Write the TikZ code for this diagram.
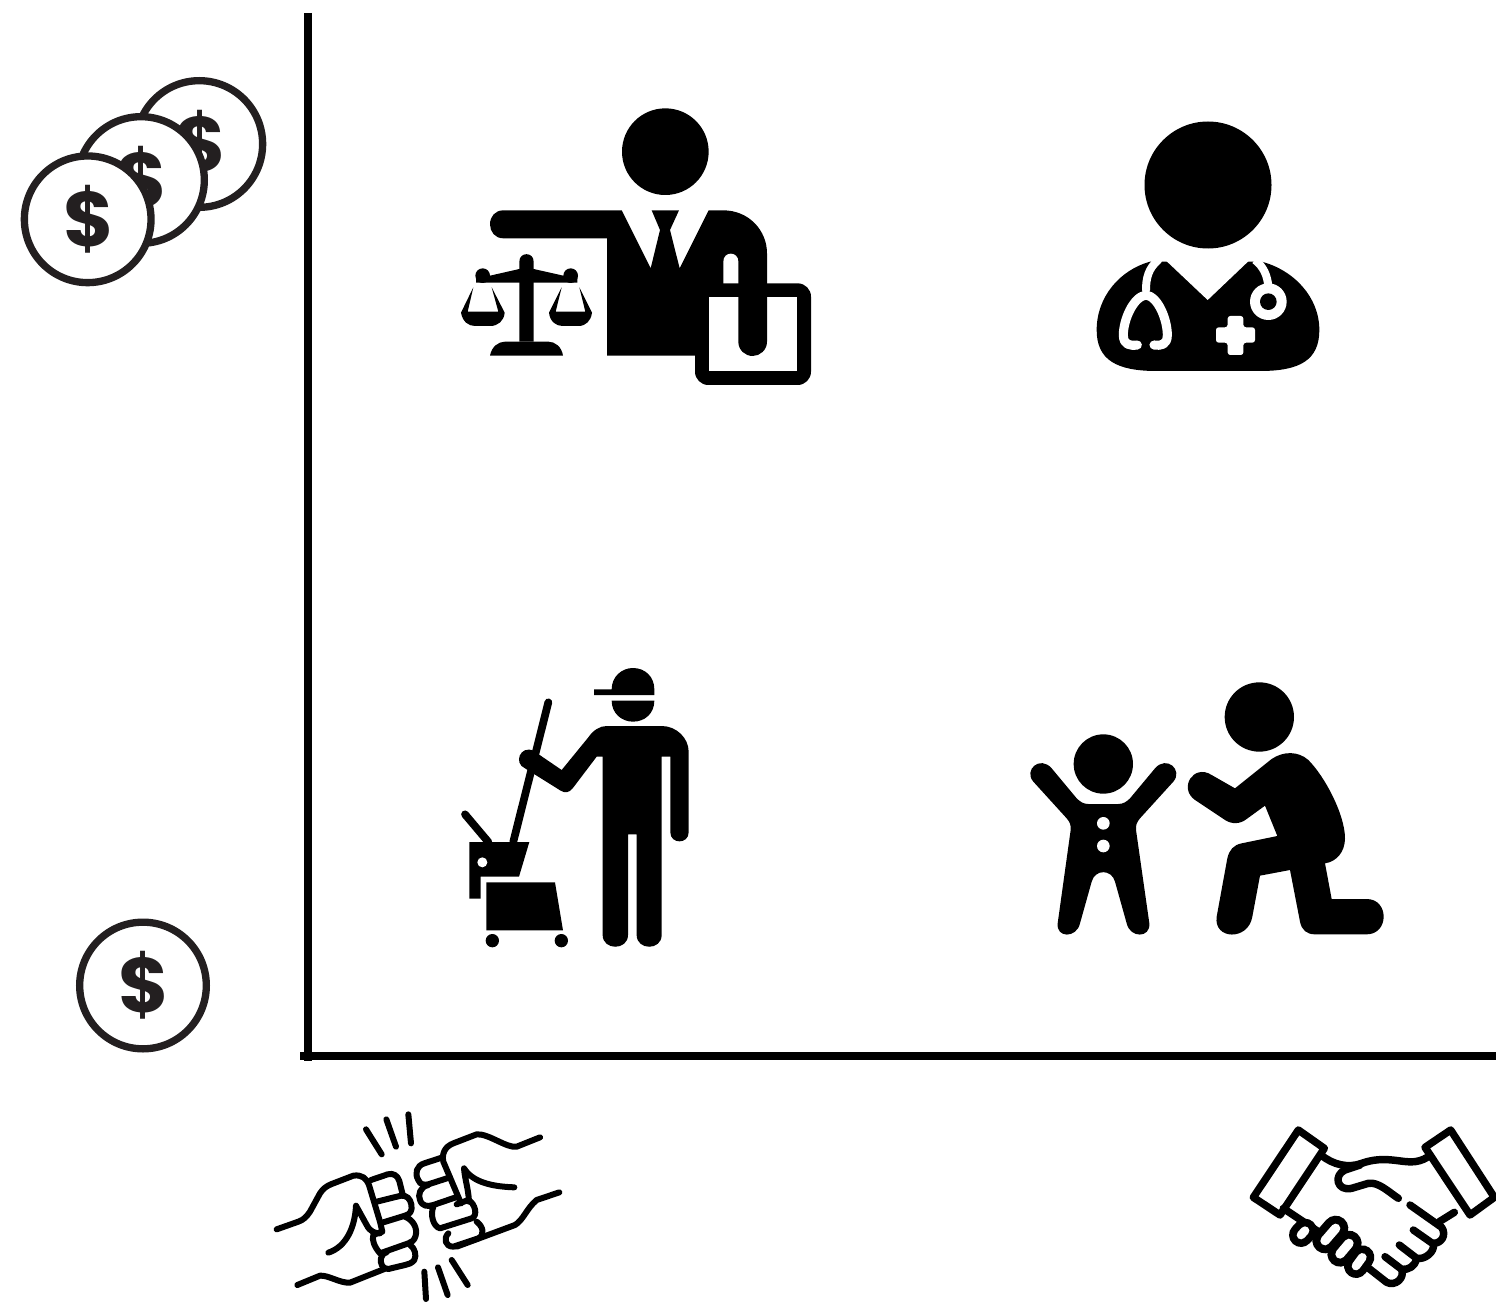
\documentclass[tikz,border=0pt]{standalone}
\usepackage{fontspec}
\newfontfamily\coinfont{Poppins}
\tikzset{
  axisline/.style={draw=black,line width=6pt},
  solid ink/.style={fill=black,draw=none},
  paper/.style={fill=white,draw=none},
  cointhin/.style={circle,draw=coinink,fill=white,line width=5.5pt,minimum size=95pt,inner sep=0pt},
  dollar/.style={text=coinink,inner sep=0pt,xshift=1pt,font=\coinfont\bfseries\fontsize{58}{58}\selectfont},
  outline/.style={draw=black,line cap=round,line join=round,line width=4.5pt},
  shakeline/.style={draw=black,line cap=round,line join=round,line width=5.6pt},
  mopline/.style={draw=black,line width=5.8pt,line cap=round},
}
\definecolor{coinink}{HTML}{231F20}
\begin{document}
\begin{tikzpicture}[x=0.75pt,y=-0.75pt]
\useasboundingbox (0,0) rectangle (1496,1302);
\fill[white] (0,0) rectangle (1496,1302);
% axes
\coordinate (ytop) at (308,13);
\coordinate (ybot) at (308,1061);
\coordinate (xleft) at (300,1055.5);
\coordinate (xright) at (1496,1055.5);
\draw[axisline] (ytop) -- (ybot);
\draw[axisline] (xleft) -- (xright);
% coins
\node[cointhin] (coinC) at (199.3,144) {};
\node[dollar] (dollarC) at (199.3,144) {\$};
\node[cointhin] (coinB) at (141,180) {};
\node[dollar] (dollarB) at (141,180) {\$};
\node[cointhin] (coinA) at (87.7,219.3) {};
\node[dollar] (dollarA) at (87.7,219.3) {\$};
\node[cointhin] (coinD) at (143,985.5) {};
\node[dollar] (dollarD) at (143,985.5) {\$};
% lawyer
\begin{scope}[shift={(440,90)},scale=1/3]
\fill[solid ink] (676,185) circle (130);
\fill[solid ink] (190,361) -- (545,361) -- (632,535) -- (660,420) -- (635,361) -- (717,361) -- (690,420) -- (719,535) -- (806,361) -- (850,361) .. controls (925,361) and (981,420) .. (981,490) -- (981,797) -- (501,797) -- (501,445) -- (190,445) .. controls (165,445) and (150,425) .. (150,403) .. controls (150,380) and (165,361) .. (190,361) -- cycle;
\fill[solid ink,rounded corners=10pt] (765,580) rectangle (1113,885);
\fill[paper] (806,622) rectangle (1071,843);
\fill[solid ink] (895,600) -- (981,600) -- (981,755) .. controls (981,780) and (960,798) .. (938,798) .. controls (915,798) and (895,780) .. (895,755) -- cycle;
\fill[paper] (850,580) -- (850,515) .. controls (850,483) and (895,483) .. (895,515) -- (895,580) -- cycle;
% scales
\fill[solid ink] (238,755) -- (238,515) .. controls (238,485) and (281,485) .. (281,515) -- (281,755) -- cycle;
\fill[solid ink] (128,557) circle (22);
\fill[solid ink] (392,557) circle (22);
\fill[solid ink] (108,578) -- (108,557) -- (150,557) -- (238,537) -- (281,537) -- (370,557) -- (412,557) -- (412,578) -- cycle;
\fill[solid ink] (150,797) .. controls (155,770) and (175,755) .. (195,755) -- (325,755) .. controls (345,755) and (365,770) .. (369,797) -- cycle;
\fill[solid ink] (100,592) -- (63,668) .. controls (68,695) and (85,708) .. (105,708) -- (150,708) .. controls (175,708) and (192,692) .. (194,668) -- (155,592) -- (175,665) -- (83,665) -- cycle;
\fill[solid ink] (365,592) -- (327,668) .. controls (330,695) and (348,708) .. (368,708) -- (415,708) .. controls (438,708) and (453,692) .. (456,668) -- (418,592) -- (436,665) -- (347,665) -- cycle;
\end{scope}
% doctor
\fill[solid ink] (1208,185) circle (63.5);
\begin{scope}[shift={(1080,240)},scale=1/3]
\fill[solid ink] (210,65) .. controls (120,90) and (50,170) .. (50,270) .. controls (50,360) and (110,393) .. (230,393) -- (540,393) .. controls (660,393) and (718,360) .. (718,270) .. controls (718,170) and (640,90) .. (545,65) -- cycle;
\fill[paper] (258,62) -- (383,180) -- (507,62) -- cycle;
\draw[white,line width=6pt,line cap=round] (235,60) .. controls (205,85) and (198,115) .. (198,150);
\draw[white,line width=6.8pt,line cap=round,line join=round] (172,315) .. controls (150,318) and (130,315) .. (130,285) .. controls (130,240) and (160,170) .. (198,165) .. controls (235,170) and (262,240) .. (262,285) .. controls (262,315) and (243,318) .. (222,315);
\draw[white,line width=6pt] (525,60) .. controls (550,80) and (562,105) .. (565,140);
\fill[paper] (565,185) circle (55);
\fill[solid ink] (565,185) circle (25);
\fill[paper,rounded corners=2pt] (443,228) -- (490,228) -- (490,262) -- (525,262) -- (525,308) -- (490,308) -- (490,345) -- (443,345) -- (443,308) -- (408,308) -- (408,262) -- (443,262) -- cycle;
\end{scope}
% janitor
\begin{scope}[shift={(450,660)},scale=1/3]
\fill[solid ink] (432,88) -- (485,88) .. controls (485,50) and (515,24) .. (549,24) .. controls (585,24) and (613,50) .. (613,88) -- (613,105) -- (432,105) -- cycle;
\fill[solid ink] (485,122) -- (613,122) .. controls (613,160) and (585,185) .. (549,185) .. controls (515,185) and (485,160) .. (485,122) -- cycle;
\fill[solid ink] (470,198) -- (635,198) .. controls (680,198) and (716,235) .. (716,275) -- (716,517) .. controls (716,553) and (661,553) .. (661,517) -- (661,290) -- (635,290) -- (635,825) .. controls (635,872) and (560,872) .. (560,825) -- (560,523) -- (534,523) -- (534,825) .. controls (534,872) and (458,872) .. (458,825) -- (458,290) -- (440,290) -- (368,385) .. controls (358,398) and (345,400) .. (332,392) -- (225,325) .. controls (190,310) and (210,255) .. (250,272) -- (335,330) -- (415,232) .. controls (430,210) and (450,198) .. (470,198) -- cycle;
\draw[mopline] (295,127) -- (190,545);
\draw[mopline] (45,463) -- (115,546);
\fill[solid ink] (58,546) -- (238,546) -- (207,650) -- (92,650) -- (92,716) -- (58,716) -- cycle;
\fill[paper] (97,607) circle (15);
\fill[solid ink] (109,667) -- (315,667) -- (339,811) -- (109,811) -- cycle;
\fill[solid ink] (127,842) circle (20);
\fill[solid ink] (334,842) circle (20);
\end{scope}
% child and adult
\begin{scope}[shift={(1020,675)},scale=1/3]
\fill[solid ink] (718,126) circle (104);
\fill[solid ink] (645,340) -- (755,252) .. controls (790,228) and (835,228) .. (865,255) .. controls (915,305) and (975,420) .. (975,490) .. controls (975,530) and (950,560) .. (915,565) -- (935,672) -- (1040,672) .. controls (1108,672) and (1108,778) .. (1040,778) -- (885,778) .. controls (860,778) and (845,765) .. (840,740) -- (810,585) -- (720,602) -- (697,725) .. controls (685,798) and (580,795) .. (590,725) -- (622,550) .. controls (628,525) and (640,510) .. (665,505) -- (772,483) -- (735,392) -- (680,432) .. controls (660,448) and (635,448) .. (615,435) -- (525,375) .. controls (475,340) and (520,265) .. (575,300) -- cycle;
\fill[solid ink] (250,267) circle (89);
\fill[solid ink] (205,387) -- (295,387) .. controls (310,387) and (320,380) .. (330,370) -- (405,280) .. controls (440,240) and (490,285) .. (460,320) -- (360,430) .. controls (350,442) and (347,450) .. (348,465) -- (388,745) .. controls (392,790) and (330,790) .. (320,745) -- (285,620) .. controls (275,582) and (225,582) .. (215,620) -- (180,745) .. controls (170,790) and (108,790) .. (113,745) -- (152,465) .. controls (153,450) and (150,442) .. (140,430) -- (40,320) .. controls (10,285) and (60,240) .. (95,280) -- (170,370) .. controls (180,380) and (190,387) .. (205,387) -- cycle;
\fill[paper] (250,445) circle (19);
\fill[paper] (250,513) circle (19);
\end{scope}
% fist bump
\begin{scope}[shift={(265,1105)},scale=1/3]
\draw[outline] (303,73) -- (350,148);
\draw[outline] (364,43) -- (393,125);
\draw[outline] (430,28) -- (438,115);
\draw[outline] (478,500) -- (483,582);
\draw[outline] (519,487) -- (548,570);
\draw[outline] (560,465) -- (608,540);
% left fist
\draw[outline] (35,373) -- (100,350) .. controls (115,345) and (125,335) .. (135,320) -- (165,265) .. controls (175,250) and (185,243) .. (200,237) -- (265,212) .. controls (290,208) and (305,220) .. (312,240) -- (345,350) -- (352,380);
\draw[outline] (318,225) -- (368,208) .. controls (385,203) and (398,212) .. (403,228) -- (414,272);
\draw[outline] (335,290) -- (408,272) .. controls (425,270) and (436,282) .. (439,298) .. controls (443,318) and (435,328) .. (420,332) -- (355,352);
\draw[outline] (420,335) .. controls (445,345) and (458,370) .. (452,392) .. controls (448,408) and (438,412) .. (430,415) -- (345,445) .. controls (328,425) and (320,405) .. (325,390) -- (350,380);
\draw[outline] (435,420) .. controls (450,430) and (455,450) .. (448,465) .. controls (440,475) and (430,478) .. (420,480) -- (370,492) .. controls (352,492) and (345,475) .. (348,460) .. controls (350,450) and (355,445) .. (365,442);
\draw[outline] (190,443) .. controls (245,425) and (270,365) .. (273,302) -- (305,360) .. controls (315,380) and (330,385) .. (345,385);
\draw[outline] (97,540) -- (165,512) .. controls (190,510) and (225,535) .. (255,533) -- (358,492);
% right fist
\draw[outline] (825,97) -- (755,125) .. controls (725,130) and (670,85) .. (635,88) -- (565,115) .. controls (540,125) and (530,145) .. (535,170) -- (588,295);
\draw[outline] (530,158) -- (478,175) .. controls (455,182) and (448,205) .. (460,225) .. controls (465,240) and (478,240) .. (490,238) -- (555,217);
\draw[outline] (490,240) .. controls (465,245) and (458,270) .. (465,285) .. controls (472,305) and (488,305) .. (505,300) -- (578,275);
\draw[outline] (505,305) .. controls (495,330) and (505,365) .. (525,370) -- (620,340) .. controls (640,332) and (630,295) .. (610,285) -- (575,298);
\draw[outline] (550,385) .. controls (535,400) and (540,425) .. (565,425) -- (640,400) .. controls (660,390) and (655,365) .. (635,350);
\draw[outline] (748,247) .. controls (690,245) and (625,235) .. (597,190) .. controls (600,225) and (610,250) .. (612,290);
\draw[outline] (575,425) -- (750,360) .. controls (775,345) and (785,310) .. (815,285) -- (883,262);
\end{scope}
% handshake
\begin{scope}[shift={(1245,1120)},scale=1/3]
\draw[shakeline] (160,30) -- (238,85) -- (105,285) -- (25,232) -- cycle;
\draw[shakeline] (617,30) -- (540,82) -- (675,285) -- (748,232) -- cycle;
\draw[shakeline] (228,105) .. controls (265,135) and (310,145) .. (350,130) .. controls (420,105) and (470,130) .. (510,125) .. controls (530,122) and (545,115) .. (555,105);
\draw[shakeline] (345,135) -- (300,150) .. controls (265,165) and (275,215) .. (320,205) -- (370,190) .. controls (400,185) and (430,215) .. (460,235);
\draw[shakeline] (495,255) -- (590,322) .. controls (605,345) and (590,370) .. (565,370);
\draw[shakeline] (583,305) -- (628,277);
\draw[shakeline] (505,330) -- (565,372) .. controls (570,395) and (540,420) .. (515,415) -- (463,375);
\draw[shakeline] (515,415) .. controls (510,440) and (490,450) .. (470,448) -- (420,410);
\draw[shakeline] (470,448) .. controls (480,475) and (450,500) .. (425,487) -- (365,440);
\draw[shakeline] (115,265) -- (220,335);
\draw[black,line width=18pt,line cap=round] (168,345) -- (180,332);
\draw[white,line width=6.5pt,line cap=round] (168,345) -- (180,332);
\draw[black,line width=19pt,line cap=round] (240,362) -- (272,325);
\draw[white,line width=7pt,line cap=round] (240,362) -- (272,325);
\draw[black,line width=19pt,line cap=round] (285,402) -- (312,370);
\draw[white,line width=7pt,line cap=round] (285,402) -- (312,370);
\draw[black,line width=18pt,line cap=round] (333,438) -- (352,412);
\draw[white,line width=6.5pt,line cap=round] (333,438) -- (352,412);
\end{scope}
\end{tikzpicture}
\end{document}
